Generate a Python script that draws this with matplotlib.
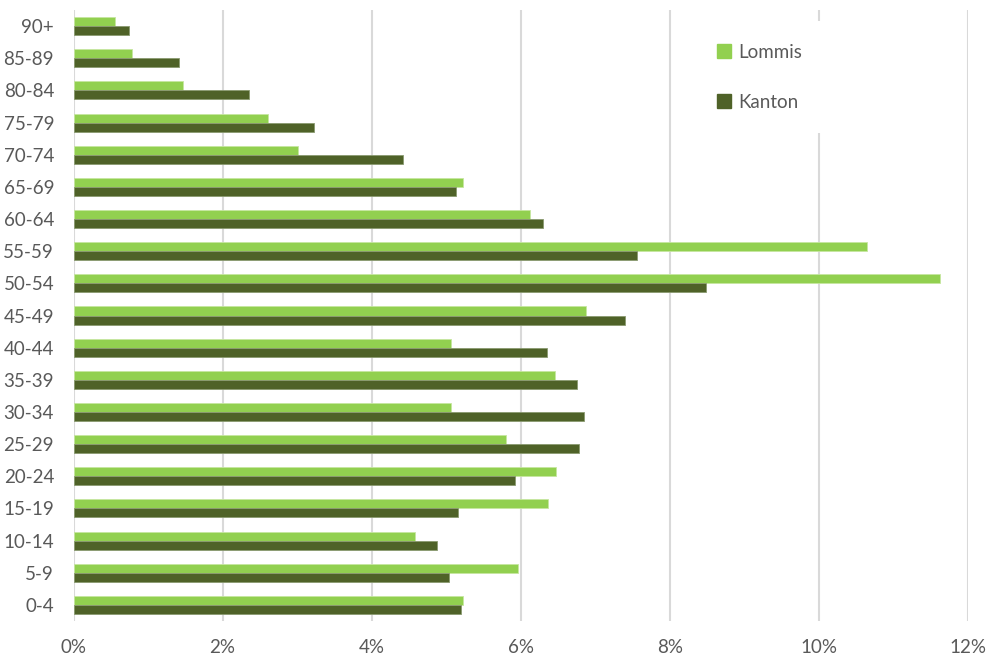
import matplotlib
matplotlib.use("Agg")
import matplotlib.pyplot as plt
import numpy as np
from matplotlib.patches import Patch

categories = ["0-4", "5-9", "10-14", "15-19", "20-24", "25-29", "30-34", "35-39",
              "40-44", "45-49", "50-54", "55-59", "60-64", "65-69", "70-74",
              "75-79", "80-84", "85-89", "90+"]
lommis = [5.22, 5.96, 4.58, 6.37, 6.47, 5.80, 5.06, 6.46, 5.06, 6.87,
          11.62, 10.64, 6.13, 5.23, 3.01, 2.61, 1.47, 0.79, 0.56]
kanton = [5.20, 5.04, 4.87, 5.16, 5.92, 6.78, 6.85, 6.75, 6.35, 7.40,
          8.49, 7.56, 6.30, 5.13, 4.42, 3.23, 2.35, 1.42, 0.75]
xticks = [0, 2, 4, 6, 8, 10, 12]

c_lommis = "#92D050"
c_kanton = "#4F6228"
txt = "#595959"

plt.rcParams['font.family'] = ['Lato', 'DejaVu Sans']

fig = plt.figure(figsize=(9.9, 6.6), dpi=100)
ax = fig.add_axes([73.5/990, 1-621/660, (968-73.5)/990, (621-10)/660])

y = np.arange(len(categories))
h = 0.28
ax.barh(y + h/2, lommis, height=h, color=c_lommis, edgecolor="#C6E6A0", linewidth=0.6, label="Lommis", zorder=3)
ax.barh(y - h/2, kanton, height=h, color=c_kanton, edgecolor="#8A9A70", linewidth=0.6, label="Kanton", zorder=3)

ax.set_xlim(0, 12)
ax.set_ylim(-0.5, len(categories) - 0.5)
ax.set_xticks(xticks)
ax.set_xticklabels([f"{v}%" for v in xticks])
ax.set_yticks(y)
ax.set_yticklabels(categories)
ax.tick_params(axis='x', length=0, pad=13, labelsize=13.5, labelcolor=txt)
ax.tick_params(axis='y', length=0, pad=14, labelsize=13.5, labelcolor=txt)
ax.grid(axis='x', color="#D9D9D9", linewidth=1.5, zorder=0)
ax.set_axisbelow(True)
for s in ax.spines.values():
    s.set_visible(False)

handles = [Patch(facecolor=c_lommis, edgecolor=c_lommis), Patch(facecolor=c_kanton, edgecolor=c_kanton)]
leg = ax.legend(handles, ["Lommis", "Kanton"], loc='center', bbox_to_anchor=(0.767, 0.89),
                frameon=True, facecolor='white', edgecolor='none', framealpha=1,
                fontsize=13.5, handlelength=0.75, handleheight=0.75, handletextpad=0.4,
                labelspacing=1.75, borderpad=1.2, borderaxespad=0)
for t in leg.get_texts():
    t.set_color(txt)
leg.set_zorder(5)

fig.savefig("out.png", dpi=100)
